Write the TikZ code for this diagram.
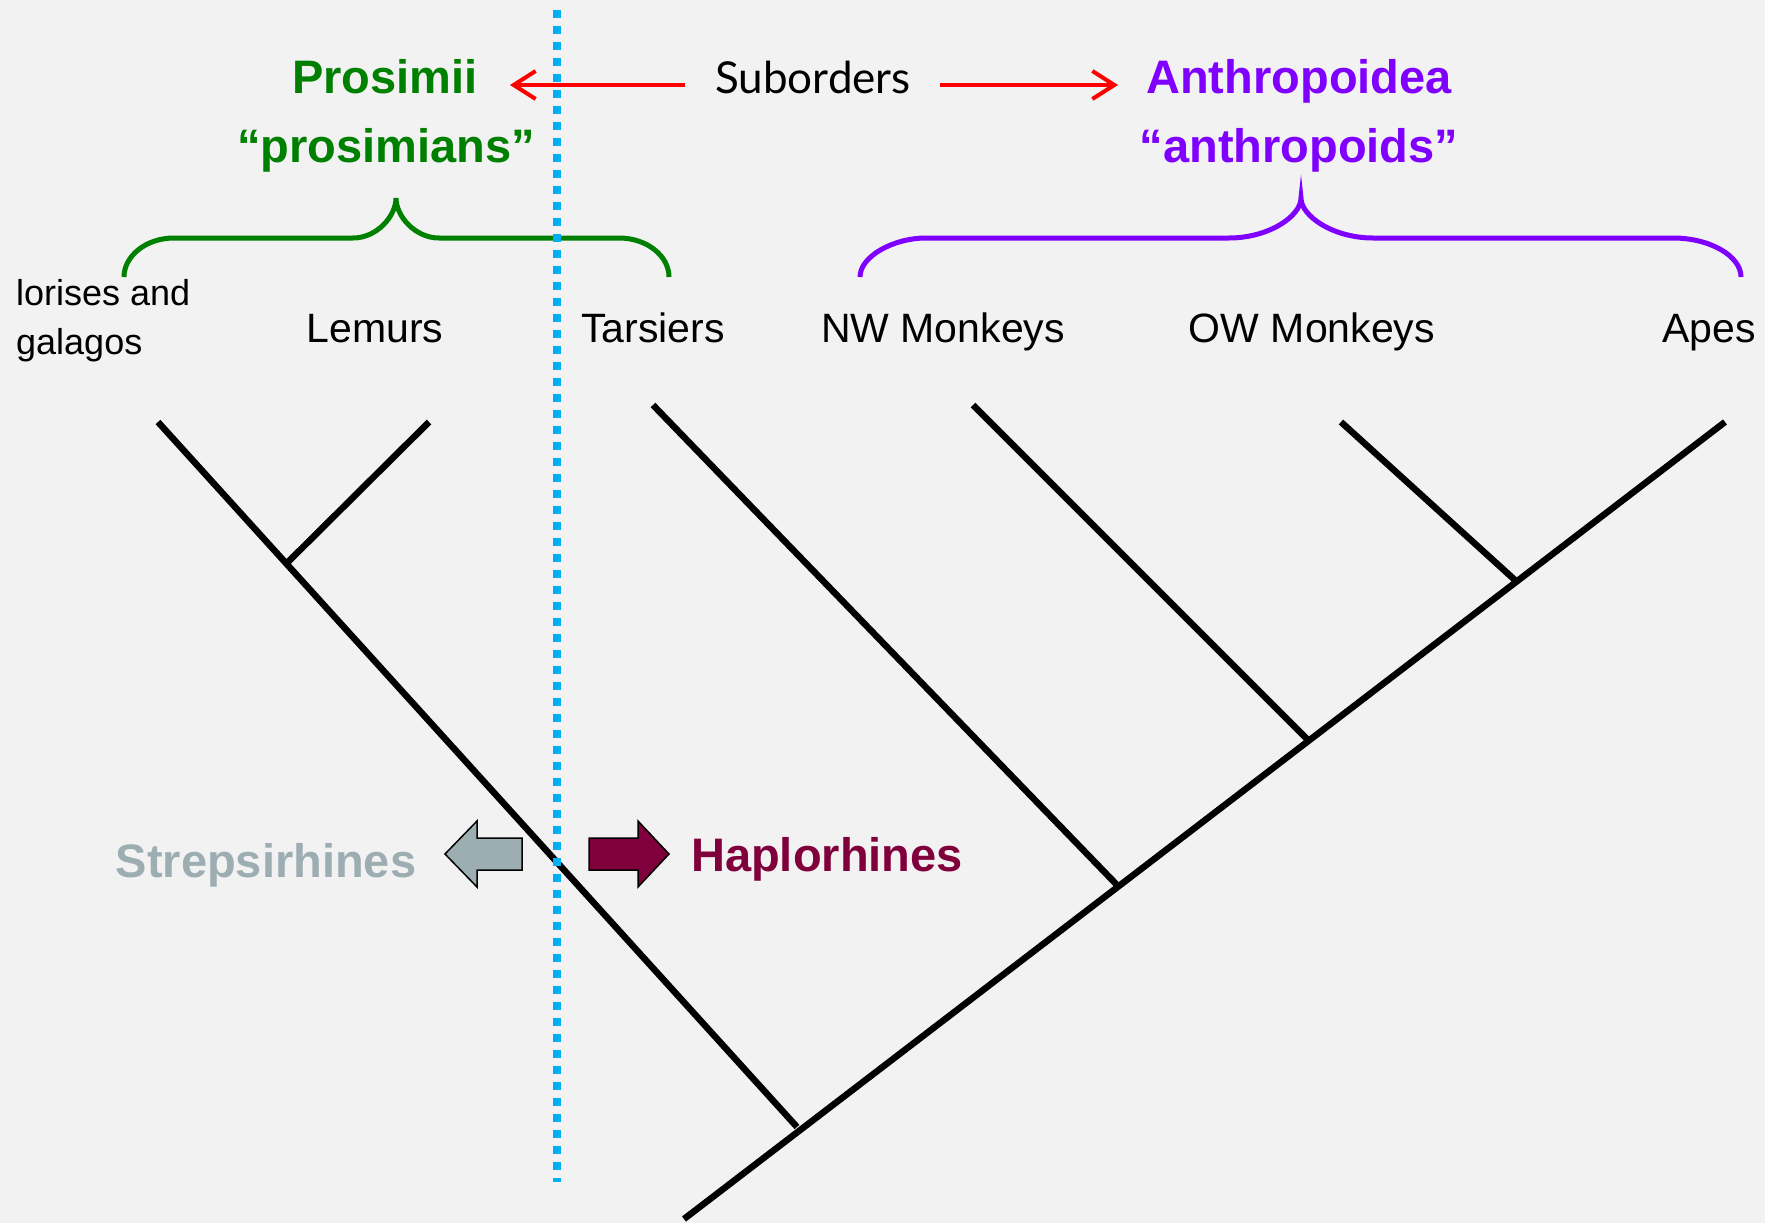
\documentclass[tikz,border=0pt]{standalone}
\usepackage{fontspec}
\setmainfont{Liberation Sans}
\newfontfamily\suborderfont{Lato}
\usetikzlibrary{arrows.meta}

\definecolor{bggray}{HTML}{F2F2F2}
\definecolor{prosgreen}{HTML}{008000}
\definecolor{anthviolet}{HTML}{8000FF}
\definecolor{haploredd}{HTML}{80003C}
\definecolor{strepgray}{HTML}{9DAEB3}
\definecolor{splitblue}{HTML}{00B0F0}

\begin{document}
\begin{tikzpicture}[x=1pt,y=-1pt,
    taxon/.style={anchor=base,inner sep=0pt,font=\fontsize{41}{49}\selectfont},
    clade/.style={anchor=base,inner sep=0pt,font=\fontsize{47}{56}\selectfont\bfseries},
    branch/.style={line width=6.5pt},
    brace/.style={line width=5pt},
    pointer/.style={red,line width=4pt,-{Straight Barb[length=22pt,width=28pt]}},
    blockarrow/.style={draw=black,line width=1.5pt,line join=miter}]

   \fill[bggray] (0,0) rectangle (1765,1223);
   \useasboundingbox (0,0) rectangle (1765,1223);

   % suborder titles
   \node[clade,prosgreen]  (prosimii)     at (385,93)  {Prosimii};
   \node[clade,prosgreen]  (prosimians)   at (386,162) {“prosimians”};
   \node[clade,anthviolet] (anthropoidea) at (1299,93)  {Anthropoidea};
   \node[clade,anthviolet] (anthropoids)  at (1299,162) {“anthropoids”};
   \node[anchor=base,inner sep=0pt,font=\suborderfont\fontsize{44}{52}\selectfont]
        (suborders) at (813,93) {Suborders};

   \draw[pointer] ([xshift=-30pt,yshift=8pt]suborders.base west)
                  -- ([xshift=32pt,yshift=8pt]prosimii.base east);
   \draw[pointer] ([xshift=29pt,yshift=8pt]suborders.base east)
                  -- ([xshift=-28pt,yshift=8pt]anthropoidea.base west);

   % braces
   \draw[brace,prosgreen] (124,277) .. controls (124,256) and (146,238) .. (174,238)
        -- (353,238) .. controls (377,238) and (396,216) .. (396,198)
        .. controls (396,216) and (415,238) .. (439,238)
        -- (619,238) .. controls (647,238) and (669,256) .. (669,277);
   \draw[brace,anthviolet] (860,277) .. controls (860,256) and (894,238) .. (926,238)
        -- (1229,238) .. controls (1269,238) and (1301,216) .. (1301,198)
        .. controls (1301,216) and (1333,238) .. (1373,238)
        -- (1673,238) .. controls (1710,238) and (1741,256) .. (1741,277);

   % taxa
   \node[anchor=base west,inner sep=0pt,align=left,
         font=\fontsize{36}{49}\selectfont] (lorises) at (16,354) {lorises and\\galagos};
   \node[taxon] (lemurs)   at (375,342)  {Lemurs};
   \node[taxon] (tarsiers) at (653,342)  {Tarsiers};
   \node[taxon] (nwmonk)   at (943,342)  {NW Monkeys};
   \node[taxon] (owmonk)   at (1312,342) {OW Monkeys};
   \node[taxon] (apes)     at (1709,342) {Apes};

   % tree
   \coordinate (root)      at (684,1219);
   \coordinate (lorisTip)  at (158,422);
   \coordinate (lemurTip)  at (429,422);
   \coordinate (strepNode) at (287,563);
   \coordinate (strepBase) at (797,1127);
   \coordinate (tarsTip)   at (653,405);
   \coordinate (tarsNode)  at (1118,886);
   \coordinate (nwTip)     at (973,405);
   \coordinate (nwNode)    at (1308,740);
   \coordinate (owTip)     at (1341,422);
   \coordinate (owNode)    at (1516,581);
   \coordinate (apeTip)    at (1725,422);

   \draw[branch] (root) -- (apeTip);
   \draw[branch] (lorisTip) -- (strepBase);
   \draw[branch] (strepNode) -- (lemurTip);
   \draw[branch] (tarsTip) -- (tarsNode);
   \draw[branch] (nwTip) -- (nwNode);
   \draw[branch] (owTip) -- (owNode);

   % infraorders
   \filldraw[blockarrow,fill=strepgray] (445,854) -- (477,821) -- (477,838) -- (522,838)
        -- (522,870) -- (477,870) -- (477,887) -- cycle;
   \filldraw[blockarrow,fill=haploredd] (589,838) -- (638,838) -- (638,821) -- (669,854)
        -- (638,887) -- (638,870) -- (589,870) -- cycle;
   \node[clade,strepgray] (strep) at (266,877) {Strepsirhines};
   \node[clade,haploredd] (haplo) at (827,871) {Haplorhines};

   % split line
   \draw[splitblue,line width=8pt,dash pattern=on 8pt off 8pt] (557,10) -- (557,1182);
\end{tikzpicture}
\end{document}
